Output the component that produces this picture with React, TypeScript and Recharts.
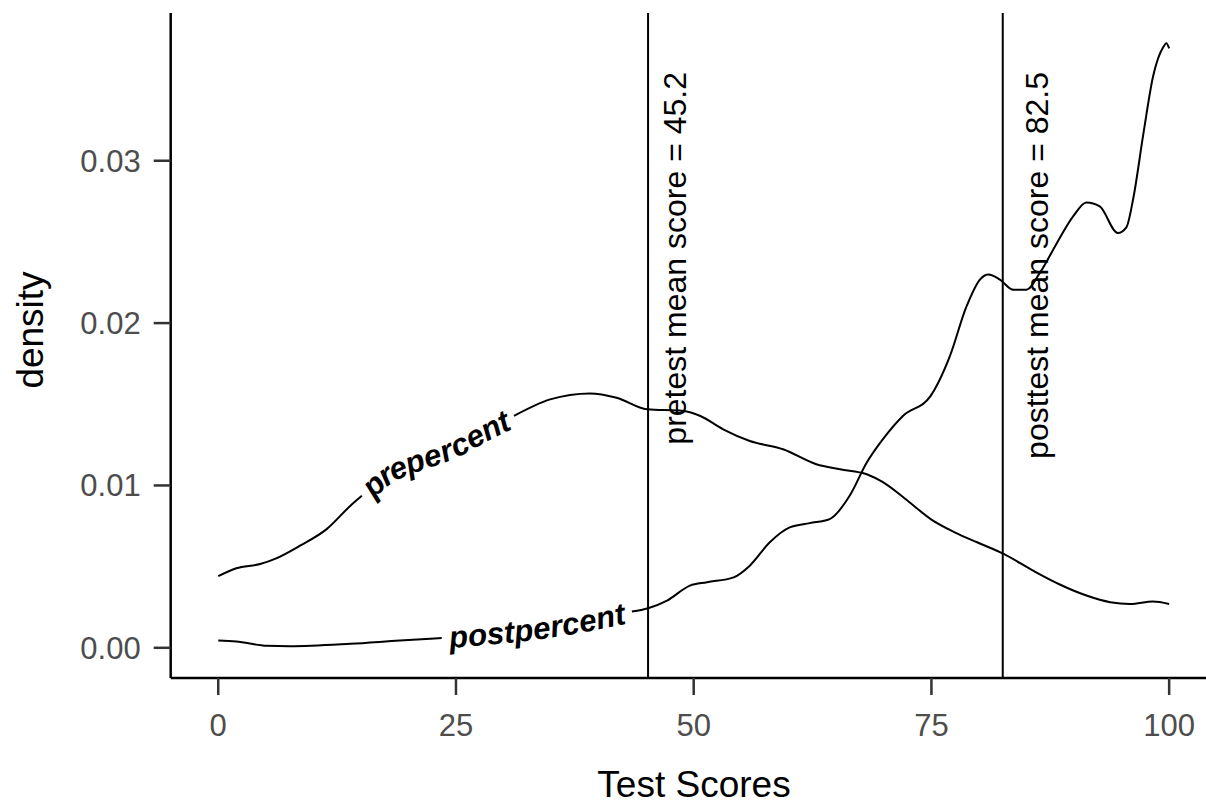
import React from "react";
import { LineChart, Line, XAxis, YAxis, ReferenceLine, Customized } from "recharts";

const FONT = "'Liberation Sans', Arial, Helvetica, sans-serif";

// density of the pretest scores (null = gap where the curve label sits)
const preX = [0, 1.9, 4.4, 6.1, 8.6, 11.4, 13.9, 15.1, 23, 31.1, 34.9, 39.1, 41.9, 45.1, 48.9, 50.7, 53.1, 55.9, 59.4, 62.9, 65.4, 68.2, 69.9, 72.2, 75, 77.5, 79.8, 82.6, 85.7, 88.5, 91.3, 93.8, 95.9, 98.3, 100];
const preD = [0.00441, 0.0049, 0.00516, 0.00551, 0.00629, 0.00731, 0.00875, 0.00936, null, 0.01428, 0.0153, 0.01567, 0.0154, 0.01469, 0.01459, 0.01428, 0.01346, 0.01274, 0.01223, 0.01131, 0.011, 0.01069, 0.0102, 0.0092, 0.0079, 0.0071, 0.0065, 0.00578, 0.00475, 0.0039, 0.00322, 0.00281, 0.0027, 0.00285, 0.0027];

// density of the posttest scores
const postX = [0, 1.9, 5.1, 7.5, 13.9, 19.1, 23.5, 33, 43.5, 45.2, 47.2, 49.6, 51.4, 54.2, 55.9, 58, 60.1, 62.2, 64.3, 66.4, 68.2, 69.9, 72, 74.9, 76.9, 78.7, 80.1, 81, 82.2, 83.6, 85, 86.4, 88.2, 89.9, 91.3, 92.7, 94.6, 95.5, 96.2, 97.3, 98.3, 99.4, 99.7, 100];
const postD = [0.00045, 0.00039, 0.00012, 0.0001, 0.00025, 0.00045, 0.0006, null, 0.00223, 0.00244, 0.00291, 0.00383, 0.00404, 0.00434, 0.00506, 0.0065, 0.00742, 0.00768, 0.00793, 0.00936, 0.01141, 0.01285, 0.01428, 0.0155, 0.0179, 0.02104, 0.02268, 0.02299, 0.02268, 0.02206, 0.02206, 0.02309, 0.02494, 0.02657, 0.02743, 0.02719, 0.02555, 0.0259, 0.0276, 0.0317, 0.03517, 0.03702, 0.03723, 0.03692];

// where the curve labels run (the part of each curve under the text)
const preLabelX = [15.1, 17, 20, 24.4, 28, 31.1];
const preLabelD = [0.00936, 0.0106, 0.0114, 0.0122, 0.0134, 0.01428];
const postLabelX = [23.5, 27, 31, 35, 39, 43.5];
const postLabelD = [0.0006, 0.0008, 0.001, 0.0013, 0.0017, 0.00223];

const xTicks = [0, 25, 50, 75, 100];
const yTicks = [0, 0.01, 0.02, 0.03];

const means = [
  { x: 45.2, text: "pretest mean score = 45.2", dx: 38 },
  { x: 82.5, text: "posttest mean score = 82.5", dx: 45 },
];

const zip = (xs: number[], ds: (number | null)[]) => xs.map((x, i) => ({ x, d: ds[i] }));

const preData = zip(preX, preD);
const postData = zip(postX, postD);
const preLabelData = zip(preLabelX, preLabelD);
const postLabelData = zip(postLabelX, postLabelD);

function smoothPath(pts: { x: number; y: number }[]) {
  let d = `M${pts[0].x},${pts[0].y}`;
  for (let i = 1; i < pts.length - 1; i++) {
    const mx = (pts[i].x + pts[i + 1].x) / 2;
    const my = (pts[i].y + pts[i + 1].y) / 2;
    d += ` Q${pts[i].x},${pts[i].y} ${mx},${my}`;
  }
  const last = pts[pts.length - 1];
  d += ` L${last.x},${last.y}`;
  return d;
}

// collects the points of a hidden line and writes the text along them
function pathLabel(id: string, text: string, count: number) {
  const pts: { x: number; y: number }[] = [];
  return (props: any) => {
    const { cx, cy, index } = props;
    if (index === 0) pts.length = 0;
    pts[index] = { x: cx, y: cy };
    if (index !== count - 1) return <g key={`${id}-${index}`} />;
    return (
      <g key={`${id}-${index}`}>
        <path id={id} d={smoothPath(pts)} fill="none" stroke="none" />
        <text fontFamily={FONT} fontSize={31} fontWeight="bold" fontStyle="italic" fill="#000" dominantBaseline="central">
          <textPath href={`#${id}`} startOffset="50%" textAnchor="middle">
            {text}
          </textPath>
        </text>
      </g>
    );
  };
}

const tickStyle = { fill: "#4d4d4d", fontSize: 31, fontFamily: FONT };

export default function App() {
  return (
    <div style={{ position: "absolute", left: 0, top: 0, width: 1206, height: 805, overflow: "hidden", background: "#fff" }}>
      <LineChart width={1230} height={805} margin={{ top: 13, right: 13.3, bottom: 67, left: 50.7 }}>
        <XAxis
          type="number"
          dataKey="x"
          domain={[-5, 105]}
          allowDataOverflow
          ticks={xTicks}
          height={60}
          tickSize={17}
          tickMargin={19}
          tick={tickStyle}
          axisLine={{ stroke: "#000", strokeWidth: 2.5 }}
          tickLine={{ stroke: "#333", strokeWidth: 2.5 }}
        />
        <YAxis
          type="number"
          domain={[-0.00186, 0.0391]}
          allowDataOverflow
          ticks={yTicks}
          width={120}
          tickSize={17}
          tickMargin={13}
          tickFormatter={(v: number) => v.toFixed(2)}
          tick={tickStyle}
          axisLine={{ stroke: "#000", strokeWidth: 2.5 }}
          tickLine={{ stroke: "#333", strokeWidth: 2.5 }}
        />
        {means.map((m) => (
          <ReferenceLine
            key={m.x}
            x={m.x}
            stroke="#000"
            strokeWidth={2}
            label={(p: any) => {
              const x = p.viewBox.x + m.dx;
              const y = p.viewBox.y + 59;
              return (
                <text x={x} y={y} transform={`rotate(-90 ${x} ${y})`} textAnchor="end" fontFamily={FONT} fontSize={32} fill="#000">
                  {m.text}
                </text>
              );
            }}
          />
        ))}
        <Line data={preData} dataKey="d" type="monotone" stroke="#000" strokeWidth={2} dot={false} activeDot={false} isAnimationActive={false} />
        <Line data={postData} dataKey="d" type="monotone" stroke="#000" strokeWidth={2} dot={false} activeDot={false} isAnimationActive={false} />
        <Line data={preLabelData} dataKey="d" stroke="none" dot={pathLabel("pre-path", "prepercent", preLabelData.length)} activeDot={false} isAnimationActive={false} />
        <Line data={postLabelData} dataKey="d" stroke="none" dot={pathLabel("post-path", "postpercent", postLabelData.length)} activeDot={false} isAnimationActive={false} />
        <Customized
          component={
            <g>
              <text x={30} y={330} transform="rotate(-90 30 330)" textAnchor="middle" dominantBaseline="central" fontFamily={FONT} fontSize={37} fill="#000">
                density
              </text>
              <text x={694} y={797} textAnchor="middle" fontFamily={FONT} fontSize={37} fill="#000">
                Test Scores
              </text>
            </g>
          }
        />
      </LineChart>
    </div>
  );
}
